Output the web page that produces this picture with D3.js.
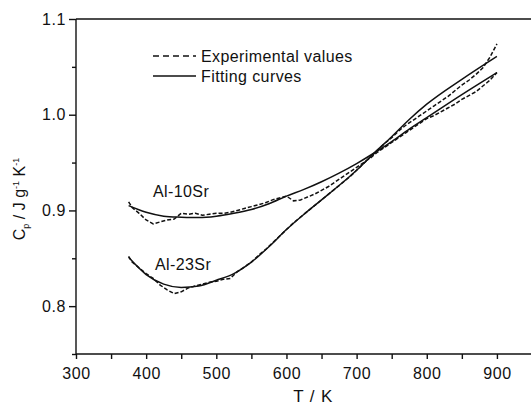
<!DOCTYPE html>
<html lang="en">
<head>
<meta charset="utf-8">
<title>Cp vs T</title>
<script src="https://cdn.jsdelivr.net/npm/d3@7"></script>
<style>
  body { margin: 0; background: #fff; overflow: hidden; }
  text { font-family: Arial, 'Liberation Sans', sans-serif; fill: #111; }
  .axis path, .axis line { stroke: #111; stroke-width: 1.4px; }
  .axis text { font-size: 16px; letter-spacing: 0.6px; fill: #111; }
  .lbl { font-size: 16px; letter-spacing: 0.4px; }
</style>
</head>
<body>
<div id="chart"></div>
<script>
  // experimental temperatures (K)
  const expT = [375,380,390,400,410,420,430,440,450,460,470,480,490,500,510,520,530,540,550,560,570,580,590,600,
    610,620,630,640,650,660,670,680,690,700,710,720,730,740,750,760,770,780,790,800,810,820,830,840,850,860,870,880,890,900];
  const exp10 = [0.909,0.903,0.897,0.890,0.886,0.888,0.890,0.891,0.897,0.896,0.897,0.895,0.896,0.897,0.897,0.898,0.900,0.902,0.904,0.906,0.908,0.911,0.913,0.915,
    0.910,0.911,0.914,0.917,0.921,0.925,0.930,0.935,0.940,0.945,0.950,0.955,0.961,0.966,0.971,0.976,0.981,0.986,0.991,0.996,0.999,1.003,1.007,1.011,1.016,1.020,1.024,1.030,1.036,1.044];
  const exp23 = [0.852,0.846,0.840,0.834,0.829,0.822,0.817,0.813,0.815,0.819,0.821,0.823,0.825,0.826,0.828,0.829,0.836,0.841,0.846,0.853,0.859,0.866,0.873,0.880,
    0.887,0.893,0.899,0.905,0.911,0.917,0.923,0.929,0.935,0.942,0.949,0.956,0.963,0.970,0.976,0.983,0.989,0.994,0.999,1.004,1.009,1.014,1.019,1.025,1.031,1.036,1.042,1.049,1.060,1.074];

  // fitting curves
  const fitT = [375,400,425,450,475,500,525,550,575,600,625,650,675,700,725,750,775,800,850,900];
  const fit10 = [0.905,0.898,0.894,0.893,0.8925,0.894,0.897,0.901,0.907,0.915,0.922,0.930,0.939,0.949,0.960,0.972,0.985,0.997,1.021,1.044];
  const fit23 = [0.851,0.833,0.823,0.8195,0.821,0.827,0.834,0.846,0.862,0.880,0.896,0.911,0.926,0.942,0.960,0.977,0.995,1.011,1.037,1.061];

  const xTicks = [300,400,500,600,700,800,900];
  const xMinor = [350,450,550,650,750,850];
  const yTicks = [0.8,0.9,1.0,1.1];
  const yMinor = [0.75,0.85,0.95,1.05];

  const width = 531, height = 405;
  const svg = d3.select("#chart").append("svg")
    .attr("width", width).attr("height", height);

  const x = d3.scaleLinear().domain([300, 950]).range([76, 532]);
  const y = d3.scaleLinear().domain([0.75, 1.1]).range([354, 19]);

  // axes
  svg.append("g").attr("class", "axis")
    .attr("transform", "translate(0,354)")
    .call(d3.axisBottom(x).tickValues(xMinor).tickSize(5).tickFormat(""))
    .call(g => g.select(".domain").remove());
  svg.append("g").attr("class", "axis")
    .attr("transform", "translate(0,354)")
    .call(d3.axisBottom(x).tickValues(xTicks).tickSize(5).tickPadding(9).tickFormat(d3.format("d")))
    .call(g => g.select(".domain").attr("d", "M76,0H532"));

  svg.append("g").attr("class", "axis")
    .attr("transform", "translate(76,0)")
    .call(d3.axisLeft(y).tickValues(yMinor).tickSize(4).tickFormat(""))
    .call(g => g.select(".domain").remove());
  svg.append("g").attr("class", "axis")
    .attr("transform", "translate(76,0)")
    .call(d3.axisLeft(y).tickValues(yTicks).tickSize(7).tickPadding(3).tickFormat(d3.format(".1f")))
    .call(g => g.select(".domain").attr("d", "M0,354V19"));

  // top frame
  svg.append("line").attr("x1", 76).attr("x2", 532).attr("y1", y(1.1)).attr("y2", y(1.1))
    .attr("stroke", "#111").attr("stroke-width", 1.4);

  const line = d3.line().x(d => x(d[0])).y(d => y(d[1]));
  const fitLine = d3.line().x(d => x(d[0])).y(d => y(d[1])).curve(d3.curveMonotoneX);

  [exp10, exp23].forEach(s => {
    svg.append("path").datum(expT.map((t, i) => [t, s[i]]))
      .attr("d", line).attr("fill", "none").attr("stroke", "#111")
      .attr("stroke-width", 1.5).attr("stroke-dasharray", "4,2");
  });
  [fit10, fit23].forEach(s => {
    svg.append("path").datum(fitT.map((t, i) => [t, s[i]]))
      .attr("d", fitLine).attr("fill", "none").attr("stroke", "#111")
      .attr("stroke-width", 1.5);
  });

  // legend
  svg.append("line").attr("x1", 153).attr("x2", 196).attr("y1", 56).attr("y2", 56)
    .attr("stroke", "#111").attr("stroke-width", 1.4).attr("stroke-dasharray", "6,4");
  svg.append("text").attr("class", "lbl").attr("x", 201).attr("y", 62).text("Experimental values");
  svg.append("line").attr("x1", 153).attr("x2", 196).attr("y1", 76).attr("y2", 76)
    .attr("stroke", "#111").attr("stroke-width", 1.4);
  svg.append("text").attr("class", "lbl").attr("x", 201).attr("y", 82).text("Fitting curves");

  // series labels
  svg.append("text").attr("class", "lbl").attr("x", 153).attr("y", 197).text("Al-10Sr");
  svg.append("text").attr("class", "lbl").attr("x", 155).attr("y", 270).text("Al-23Sr");

  // axis titles
  svg.append("text").attr("x", 313).attr("y", 402).attr("text-anchor", "middle")
    .attr("font-size", 17).attr("word-spacing", 1).attr("letter-spacing", 0.4).text("T / K");

  const yl = svg.append("text").attr("transform", "translate(25,199) rotate(-90)")
    .attr("text-anchor", "middle").attr("font-size", 16);
  yl.append("tspan").text("C");
  yl.append("tspan").attr("font-size", 9).attr("dy", 4).text("p");
  yl.append("tspan").attr("dy", -4).text(" / J g");
  yl.append("tspan").attr("font-size", 9).attr("dy", -6).text("-1");
  yl.append("tspan").attr("dy", 6).text(" K");
  yl.append("tspan").attr("font-size", 9).attr("dy", -6).text("-1");
</script>
</body>
</html>
